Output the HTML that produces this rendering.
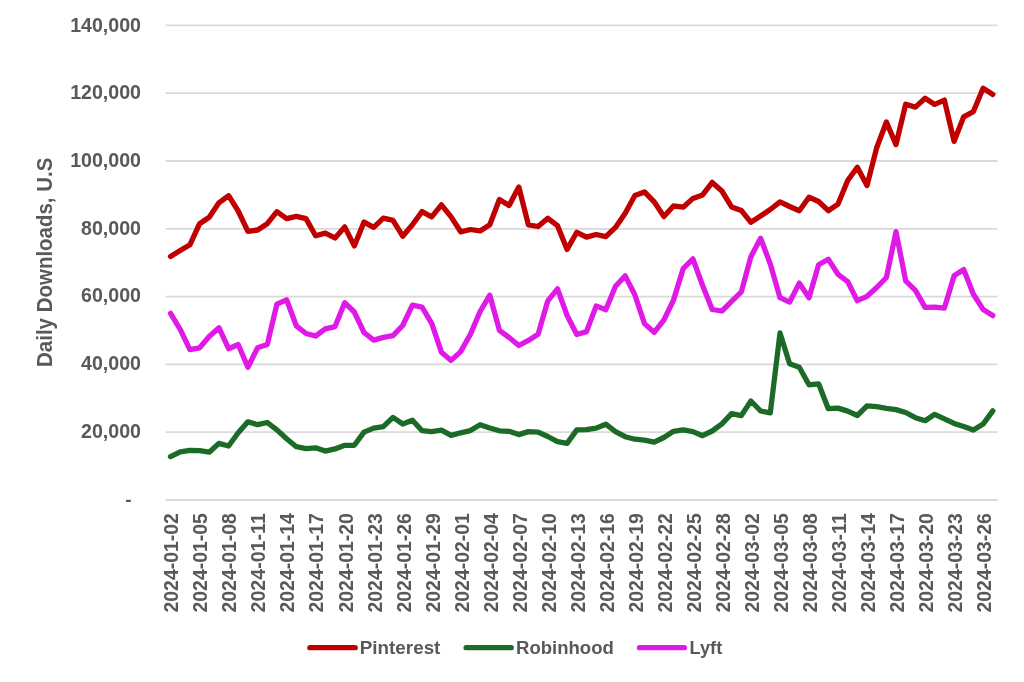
<!DOCTYPE html><html><head><meta charset="utf-8"><style>html,body{margin:0;padding:0;background:#fff;}svg{display:block;filter:blur(0.35px);}</style></head><body>
<svg width="1024" height="682" viewBox="0 0 1024 682">
<rect width="1024" height="682" fill="#fff"/>
<line x1="165.7" y1="25.4" x2="997.6" y2="25.4" stroke="#dadada" stroke-width="1.8"/>
<line x1="165.7" y1="93.2" x2="997.6" y2="93.2" stroke="#dadada" stroke-width="1.8"/>
<line x1="165.7" y1="161.0" x2="997.6" y2="161.0" stroke="#dadada" stroke-width="1.8"/>
<line x1="165.7" y1="228.8" x2="997.6" y2="228.8" stroke="#dadada" stroke-width="1.8"/>
<line x1="165.7" y1="296.6" x2="997.6" y2="296.6" stroke="#dadada" stroke-width="1.8"/>
<line x1="165.7" y1="364.4" x2="997.6" y2="364.4" stroke="#dadada" stroke-width="1.8"/>
<line x1="165.7" y1="432.2" x2="997.6" y2="432.2" stroke="#dadada" stroke-width="1.8"/>
<line x1="165.7" y1="500.0" x2="997.6" y2="500.0" stroke="#dadada" stroke-width="1.8"/>
<text x="141" y="31.7" font-family="Liberation Sans, sans-serif" font-weight="bold" font-size="19.6" fill="#595959" text-anchor="end">140,000</text>
<text x="141" y="99.4" font-family="Liberation Sans, sans-serif" font-weight="bold" font-size="19.6" fill="#595959" text-anchor="end">120,000</text>
<text x="141" y="167.0" font-family="Liberation Sans, sans-serif" font-weight="bold" font-size="19.6" fill="#595959" text-anchor="end">100,000</text>
<text x="141" y="234.7" font-family="Liberation Sans, sans-serif" font-weight="bold" font-size="19.6" fill="#595959" text-anchor="end">80,000</text>
<text x="141" y="302.3" font-family="Liberation Sans, sans-serif" font-weight="bold" font-size="19.6" fill="#595959" text-anchor="end">60,000</text>
<text x="141" y="369.9" font-family="Liberation Sans, sans-serif" font-weight="bold" font-size="19.6" fill="#595959" text-anchor="end">40,000</text>
<text x="141" y="437.6" font-family="Liberation Sans, sans-serif" font-weight="bold" font-size="19.6" fill="#595959" text-anchor="end">20,000</text>
<text x="131.5" y="505.8" font-family="Liberation Sans, sans-serif" font-weight="bold" font-size="19" fill="#595959" text-anchor="end">-</text>
<text transform="translate(52.0,262.3) rotate(-90)" x="0" y="0" font-family="Liberation Sans, sans-serif" font-weight="bold" font-size="21.5" fill="#595959" text-anchor="middle" textLength="209.3" lengthAdjust="spacingAndGlyphs">Daily Downloads, U.S</text>
<text transform="translate(178.3,513.2) rotate(-90)" font-family="Liberation Sans, sans-serif" font-weight="bold" font-size="19.6" fill="#595959" text-anchor="end" textLength="99.3" lengthAdjust="spacingAndGlyphs">2024-01-02</text>
<text transform="translate(207.4,513.2) rotate(-90)" font-family="Liberation Sans, sans-serif" font-weight="bold" font-size="19.6" fill="#595959" text-anchor="end" textLength="99.3" lengthAdjust="spacingAndGlyphs">2024-01-05</text>
<text transform="translate(236.4,513.2) rotate(-90)" font-family="Liberation Sans, sans-serif" font-weight="bold" font-size="19.6" fill="#595959" text-anchor="end" textLength="99.3" lengthAdjust="spacingAndGlyphs">2024-01-08</text>
<text transform="translate(265.4,513.2) rotate(-90)" font-family="Liberation Sans, sans-serif" font-weight="bold" font-size="19.6" fill="#595959" text-anchor="end" textLength="99.3" lengthAdjust="spacingAndGlyphs">2024-01-11</text>
<text transform="translate(294.4,513.2) rotate(-90)" font-family="Liberation Sans, sans-serif" font-weight="bold" font-size="19.6" fill="#595959" text-anchor="end" textLength="99.3" lengthAdjust="spacingAndGlyphs">2024-01-14</text>
<text transform="translate(323.4,513.2) rotate(-90)" font-family="Liberation Sans, sans-serif" font-weight="bold" font-size="19.6" fill="#595959" text-anchor="end" textLength="99.3" lengthAdjust="spacingAndGlyphs">2024-01-17</text>
<text transform="translate(352.5,513.2) rotate(-90)" font-family="Liberation Sans, sans-serif" font-weight="bold" font-size="19.6" fill="#595959" text-anchor="end" textLength="99.3" lengthAdjust="spacingAndGlyphs">2024-01-20</text>
<text transform="translate(381.5,513.2) rotate(-90)" font-family="Liberation Sans, sans-serif" font-weight="bold" font-size="19.6" fill="#595959" text-anchor="end" textLength="99.3" lengthAdjust="spacingAndGlyphs">2024-01-23</text>
<text transform="translate(410.5,513.2) rotate(-90)" font-family="Liberation Sans, sans-serif" font-weight="bold" font-size="19.6" fill="#595959" text-anchor="end" textLength="99.3" lengthAdjust="spacingAndGlyphs">2024-01-26</text>
<text transform="translate(439.5,513.2) rotate(-90)" font-family="Liberation Sans, sans-serif" font-weight="bold" font-size="19.6" fill="#595959" text-anchor="end" textLength="99.3" lengthAdjust="spacingAndGlyphs">2024-01-29</text>
<text transform="translate(468.5,513.2) rotate(-90)" font-family="Liberation Sans, sans-serif" font-weight="bold" font-size="19.6" fill="#595959" text-anchor="end" textLength="99.3" lengthAdjust="spacingAndGlyphs">2024-02-01</text>
<text transform="translate(497.6,513.2) rotate(-90)" font-family="Liberation Sans, sans-serif" font-weight="bold" font-size="19.6" fill="#595959" text-anchor="end" textLength="99.3" lengthAdjust="spacingAndGlyphs">2024-02-04</text>
<text transform="translate(526.6,513.2) rotate(-90)" font-family="Liberation Sans, sans-serif" font-weight="bold" font-size="19.6" fill="#595959" text-anchor="end" textLength="99.3" lengthAdjust="spacingAndGlyphs">2024-02-07</text>
<text transform="translate(555.6,513.2) rotate(-90)" font-family="Liberation Sans, sans-serif" font-weight="bold" font-size="19.6" fill="#595959" text-anchor="end" textLength="99.3" lengthAdjust="spacingAndGlyphs">2024-02-10</text>
<text transform="translate(584.6,513.2) rotate(-90)" font-family="Liberation Sans, sans-serif" font-weight="bold" font-size="19.6" fill="#595959" text-anchor="end" textLength="99.3" lengthAdjust="spacingAndGlyphs">2024-02-13</text>
<text transform="translate(613.6,513.2) rotate(-90)" font-family="Liberation Sans, sans-serif" font-weight="bold" font-size="19.6" fill="#595959" text-anchor="end" textLength="99.3" lengthAdjust="spacingAndGlyphs">2024-02-16</text>
<text transform="translate(642.7,513.2) rotate(-90)" font-family="Liberation Sans, sans-serif" font-weight="bold" font-size="19.6" fill="#595959" text-anchor="end" textLength="99.3" lengthAdjust="spacingAndGlyphs">2024-02-19</text>
<text transform="translate(671.7,513.2) rotate(-90)" font-family="Liberation Sans, sans-serif" font-weight="bold" font-size="19.6" fill="#595959" text-anchor="end" textLength="99.3" lengthAdjust="spacingAndGlyphs">2024-02-22</text>
<text transform="translate(700.7,513.2) rotate(-90)" font-family="Liberation Sans, sans-serif" font-weight="bold" font-size="19.6" fill="#595959" text-anchor="end" textLength="99.3" lengthAdjust="spacingAndGlyphs">2024-02-25</text>
<text transform="translate(729.7,513.2) rotate(-90)" font-family="Liberation Sans, sans-serif" font-weight="bold" font-size="19.6" fill="#595959" text-anchor="end" textLength="99.3" lengthAdjust="spacingAndGlyphs">2024-02-28</text>
<text transform="translate(758.7,513.2) rotate(-90)" font-family="Liberation Sans, sans-serif" font-weight="bold" font-size="19.6" fill="#595959" text-anchor="end" textLength="99.3" lengthAdjust="spacingAndGlyphs">2024-03-02</text>
<text transform="translate(787.8,513.2) rotate(-90)" font-family="Liberation Sans, sans-serif" font-weight="bold" font-size="19.6" fill="#595959" text-anchor="end" textLength="99.3" lengthAdjust="spacingAndGlyphs">2024-03-05</text>
<text transform="translate(816.8,513.2) rotate(-90)" font-family="Liberation Sans, sans-serif" font-weight="bold" font-size="19.6" fill="#595959" text-anchor="end" textLength="99.3" lengthAdjust="spacingAndGlyphs">2024-03-08</text>
<text transform="translate(845.8,513.2) rotate(-90)" font-family="Liberation Sans, sans-serif" font-weight="bold" font-size="19.6" fill="#595959" text-anchor="end" textLength="99.3" lengthAdjust="spacingAndGlyphs">2024-03-11</text>
<text transform="translate(874.8,513.2) rotate(-90)" font-family="Liberation Sans, sans-serif" font-weight="bold" font-size="19.6" fill="#595959" text-anchor="end" textLength="99.3" lengthAdjust="spacingAndGlyphs">2024-03-14</text>
<text transform="translate(903.8,513.2) rotate(-90)" font-family="Liberation Sans, sans-serif" font-weight="bold" font-size="19.6" fill="#595959" text-anchor="end" textLength="99.3" lengthAdjust="spacingAndGlyphs">2024-03-17</text>
<text transform="translate(932.9,513.2) rotate(-90)" font-family="Liberation Sans, sans-serif" font-weight="bold" font-size="19.6" fill="#595959" text-anchor="end" textLength="99.3" lengthAdjust="spacingAndGlyphs">2024-03-20</text>
<text transform="translate(961.9,513.2) rotate(-90)" font-family="Liberation Sans, sans-serif" font-weight="bold" font-size="19.6" fill="#595959" text-anchor="end" textLength="99.3" lengthAdjust="spacingAndGlyphs">2024-03-23</text>
<text transform="translate(990.9,513.2) rotate(-90)" font-family="Liberation Sans, sans-serif" font-weight="bold" font-size="19.6" fill="#595959" text-anchor="end" textLength="99.3" lengthAdjust="spacingAndGlyphs">2024-03-26</text>
<polyline points="170.5,256.4 180.2,250.6 189.9,244.8 199.6,223.7 209.2,217.2 218.9,202.8 228.6,195.7 238.2,211.0 247.9,231.3 257.6,230.0 267.3,223.7 276.9,211.7 286.6,218.6 296.3,216.3 306.0,218.6 315.6,235.7 325.3,233.1 335.0,238.0 344.7,226.9 354.3,245.9 364.0,222.1 373.7,227.4 383.3,218.1 393.0,220.4 402.7,236.2 412.4,224.8 422.0,211.6 431.7,216.9 441.4,204.9 451.1,216.9 460.7,231.8 470.4,229.5 480.1,230.9 489.8,224.8 499.4,199.5 509.1,205.4 518.8,187.0 528.4,224.8 538.1,226.5 547.8,218.3 557.5,225.7 567.1,249.4 576.8,232.3 586.5,237.1 596.2,234.5 605.8,236.6 615.5,227.4 625.2,213.3 634.9,195.4 644.5,191.9 654.2,201.9 663.9,216.5 673.5,206.0 683.2,207.2 692.9,198.4 702.6,194.9 712.2,182.4 721.9,191.0 731.6,206.9 741.3,210.4 750.9,222.3 760.6,216.0 770.3,209.5 780.0,201.9 789.6,206.5 799.3,210.7 809.0,197.2 818.6,201.5 828.3,210.7 838.0,204.1 847.7,180.5 857.3,167.2 867.0,185.6 876.7,147.7 886.4,122.0 896.0,144.6 905.7,104.2 915.4,107.1 925.1,98.3 934.7,104.4 944.4,100.1 954.1,141.3 963.7,116.8 973.4,111.6 983.1,88.2 992.8,94.4" fill="none" stroke="#c00000" stroke-width="5.3" stroke-linejoin="round" stroke-linecap="round"/>
<polyline points="170.5,456.6 180.2,451.9 189.9,450.4 199.6,450.7 209.2,452.2 218.9,443.4 228.6,446.0 238.2,432.8 247.9,421.8 257.6,424.7 267.3,422.5 276.9,429.9 286.6,438.7 296.3,446.7 306.0,448.7 315.6,447.8 325.3,451.1 335.0,448.9 344.7,445.3 354.3,445.3 364.0,432.1 373.7,428.1 383.3,426.7 393.0,417.4 402.7,424.0 412.4,420.3 422.0,430.6 431.7,431.6 441.4,430.2 451.1,435.4 460.7,432.8 470.4,430.6 480.1,424.7 489.8,428.0 499.4,430.8 509.1,431.3 518.8,434.6 528.4,431.6 538.1,432.1 547.8,436.5 557.5,441.6 567.1,443.4 576.8,429.9 586.5,429.6 596.2,428.1 605.8,424.2 615.5,431.6 625.2,436.7 634.9,439.2 644.5,440.1 654.2,442.2 663.9,437.5 673.5,431.3 683.2,429.9 692.9,431.6 702.6,435.7 712.2,431.0 721.9,423.8 731.6,413.7 741.3,415.6 750.9,401.0 760.6,411.0 770.3,412.8 780.0,333.0 789.6,363.8 799.3,367.2 809.0,384.8 818.6,383.8 828.3,408.7 838.0,408.1 847.7,411.1 857.3,415.5 867.0,405.9 876.7,406.7 886.4,408.4 896.0,409.6 905.7,412.5 915.4,417.7 925.1,420.7 934.7,414.3 944.4,418.8 954.1,423.4 963.7,426.5 973.4,430.0 983.1,424.1 992.8,410.9" fill="none" stroke="#1b6b26" stroke-width="5.3" stroke-linejoin="round" stroke-linecap="round"/>
<polyline points="170.5,313.4 180.2,329.3 189.9,349.7 199.6,347.8 209.2,336.5 218.9,327.7 228.6,348.7 238.2,344.5 247.9,367.3 257.6,347.8 267.3,344.5 276.9,304.2 286.6,299.8 296.3,325.8 306.0,333.5 315.6,336.0 325.3,328.8 335.0,326.6 344.7,302.7 354.3,312.0 364.0,332.5 373.7,340.1 383.3,337.4 393.0,335.7 402.7,325.5 412.4,305.2 422.0,307.1 431.7,323.3 441.4,352.2 451.1,360.4 460.7,351.6 470.4,334.3 480.1,311.5 489.8,295.2 499.4,330.3 509.1,337.5 518.8,345.5 528.4,340.4 538.1,334.3 547.8,300.8 557.5,288.8 567.1,315.5 576.8,334.5 586.5,331.6 596.2,305.9 605.8,309.7 615.5,286.2 625.2,275.9 634.9,295.0 644.5,323.6 654.2,332.4 663.9,320.0 673.5,300.1 683.2,268.6 692.9,258.8 702.6,285.5 712.2,309.5 721.9,311.0 731.6,301.4 741.3,291.9 750.9,256.7 760.6,238.3 770.3,264.0 780.0,297.7 789.6,302.1 799.3,283.1 809.0,297.7 818.6,264.7 828.3,259.3 838.0,274.3 847.7,281.6 857.3,300.7 867.0,296.3 876.7,287.5 886.4,277.5 896.0,231.7 905.7,280.9 915.4,290.4 925.1,307.4 934.7,307.1 944.4,308.1 954.1,275.7 963.7,269.5 973.4,294.2 983.1,309.4 992.8,315.6" fill="none" stroke="#e01ae6" stroke-width="5.3" stroke-linejoin="round" stroke-linecap="round"/>
<line x1="309.9" y1="647.7" x2="355.20000000000005" y2="647.7" stroke="#c00000" stroke-width="5.3" stroke-linecap="round"/><text x="359.8" y="653.7" font-family="Liberation Sans, sans-serif" font-weight="bold" font-size="19" fill="#595959" textLength="80.6" lengthAdjust="spacingAndGlyphs">Pinterest</text>
<line x1="466.09999999999997" y1="647.7" x2="511.20000000000005" y2="647.7" stroke="#1b6b26" stroke-width="5.3" stroke-linecap="round"/><text x="516.0" y="653.7" font-family="Liberation Sans, sans-serif" font-weight="bold" font-size="19" fill="#595959" textLength="97.8" lengthAdjust="spacingAndGlyphs">Robinhood</text>
<line x1="639.5" y1="647.7" x2="684.4" y2="647.7" stroke="#e01ae6" stroke-width="5.3" stroke-linecap="round"/><text x="689.6" y="653.7" font-family="Liberation Sans, sans-serif" font-weight="bold" font-size="19" fill="#595959" textLength="32.6" lengthAdjust="spacingAndGlyphs">Lyft</text>
</svg></body></html>
